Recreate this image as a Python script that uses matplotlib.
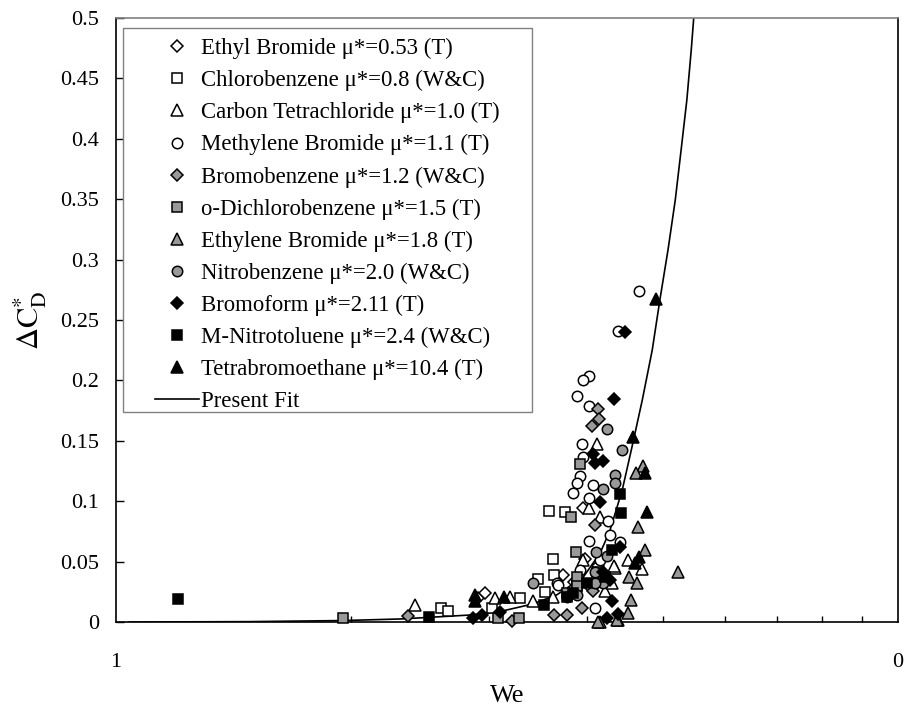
import matplotlib
matplotlib.use('Agg')
import matplotlib.pyplot as plt
from matplotlib.patches import Rectangle

plt.rcParams['font.family'] = 'Liberation Serif'
plt.rcParams['mathtext.fontset'] = 'stix'

# Weber number / drag coefficient increment for each liquid
ethyl_we = [2.90, 2.96, 3.73, 3.98, 3.96, 4.14, 4.05, 3.85]
ethyl_cd = [0.020, 0.024, 0.039, 0.052, 0.094, 0.046, 0.028, 0.033]

chloro_we = [2.60, 2.66, 3.03, 3.29, 3.46, 3.54, 3.58, 3.62, 3.63, 3.75, 3.89]
chloro_cd = [0.012, 0.009, 0.012, 0.020, 0.036, 0.025, 0.092, 0.052, 0.039, 0.091, 0.030]

ccl4_we = [2.41, 3.05, 3.19, 3.41, 3.62, 3.96, 4.03, 4.16, 4.12, 4.22, 4.31, 4.35, 4.52, 4.71, 4.33]
ccl4_cd = [0.014, 0.020, 0.021, 0.017, 0.021, 0.051, 0.094, 0.087, 0.147, 0.026, 0.032, 0.045, 0.051, 0.044, 0.046]

methylene_we = [4.67, 4.39, 4.02, 3.96, 3.89, 4.02, 3.94, 3.96, 3.92, 3.89, 4.07, 3.84,
                4.02, 4.26, 4.02, 4.28, 4.41, 4.10, 3.66, 4.16, 3.92, 3.67]
methylene_cd = [0.274, 0.241, 0.204, 0.200, 0.187, 0.179, 0.147, 0.137, 0.121, 0.115, 0.113, 0.107,
                0.103, 0.084, 0.067, 0.072, 0.066, 0.012, 0.032, 0.051, 0.043, 0.031]

bromobenz_we = [2.36, 3.21, 3.63, 3.77, 3.94, 4.14, 4.15, 4.06, 4.10, 4.07, 4.12]
bromobenz_cd = [0.005, 0.001, 0.006, 0.006, 0.012, 0.176, 0.168, 0.162, 0.080, 0.026, 0.032]

dichloro_we = [1.95, 3.08, 3.28, 3.92, 3.82, 3.88, 3.89, 3.77, 3.89, 4.12]
dichloro_cd = [0.003, 0.003, 0.003, 0.131, 0.087, 0.058, 0.037, 0.024, 0.030, 0.041]

ethylene_we = [4.72, 4.62, 4.65, 4.75, 4.53, 4.64, 5.23, 4.56, 4.52, 4.39, 4.16, 4.37, 4.14]
ethylene_cd = [0.129, 0.123, 0.079, 0.060, 0.037, 0.032, 0.041, 0.018, 0.0075, 0.002, 0.0, 0.002, 0.0]

nitrobenz_we = [4.44, 4.25, 4.35, 4.35, 4.20, 4.11, 4.25, 4.10, 4.20, 3.89, 3.77, 3.41, 4.10]
nitrobenz_cd = [0.142, 0.160, 0.122, 0.115, 0.110, 0.058, 0.055, 0.041, 0.032, 0.022, 0.021, 0.032, 0.032]

bromoform_we = [4.48, 4.33, 4.07, 4.10, 4.20, 4.16, 4.31, 4.39, 4.25, 2.86, 2.94, 3.10, 4.20, 4.28, 4.41]
bromoform_cd = [0.240, 0.185, 0.139, 0.132, 0.133, 0.099, 0.017, 0.007, 0.003, 0.003, 0.006, 0.008, 0.041, 0.035, 0.062]

nitrotol_we = [1.20, 2.51, 3.53, 4.41, 4.42, 4.31, 4.00, 3.77, 4.22, 3.84]
nitrotol_cd = [0.019, 0.004, 0.014, 0.106, 0.090, 0.060, 0.032, 0.021, 0.037, 0.024]

tetrabromo_we = [4.90, 4.58, 4.75, 4.78, 4.67, 4.61, 2.88, 2.88, 3.13]
tetrabromo_cd = [0.267, 0.153, 0.123, 0.091, 0.054, 0.049, 0.022, 0.017, 0.021]

# correlation curve
fit_we = [1.04, 1.48, 1.95, 2.31, 2.84, 3.10, 3.41, 3.66, 3.96, 4.16, 4.28, 4.44,
          4.56, 4.71, 4.85, 4.96, 5.08, 5.19, 5.28, 5.37, 5.44, 5.48]
fit_cd = [0.0, 0.0003, 0.0012, 0.0025, 0.0058, 0.0087, 0.0149, 0.0224, 0.0373, 0.0571, 0.0753, 0.1093,
          0.1424, 0.1838, 0.2252, 0.2666, 0.3079, 0.3493, 0.3907, 0.4321, 0.4735, 0.5]

grey = '#999999'
series = [
    ('Ethyl Bromide μ*=0.53 (T)', ethyl_we, ethyl_cd, 'D', 'white', 6.0),
    ('Chlorobenzene μ*=0.8 (W&C)', chloro_we, chloro_cd, 's', 'white', 7.0),
    ('Carbon Tetrachloride μ*=1.0 (T)', ccl4_we, ccl4_cd, '^', 'white', 8.0),
    ('Methylene Bromide μ*=1.1 (T)', methylene_we, methylene_cd, 'o', 'white', 7.5),
    ('Bromobenzene μ*=1.2 (W&C)', bromobenz_we, bromobenz_cd, 'D', grey, 6.0),
    ('o-Dichlorobenzene μ*=1.5 (T)', dichloro_we, dichloro_cd, 's', grey, 7.0),
    ('Ethylene Bromide μ*=1.8 (T)', ethylene_we, ethylene_cd, '^', grey, 8.0),
    ('Nitrobenzene μ*=2.0 (W&C)', nitrobenz_we, nitrobenz_cd, 'o', grey, 7.5),
    ('Bromoform μ*=2.11 (T)', bromoform_we, bromoform_cd, 'D', 'black', 6.0),
    ('M-Nitrotoluene μ*=2.4 (W&C)', nitrotol_we, nitrotol_cd, 's', 'black', 7.0),
    ('Tetrabromoethane μ*=10.4 (T)', tetrabromo_we, tetrabromo_cd, '^', 'black', 8.0),
]

fig = plt.figure(figsize=(9.08, 7.08), dpi=100)
ax = fig.add_axes([116 / 908, 86 / 708, 782 / 908, 604 / 708])

handles = []
for name, xs, ys, m, fc, ms in series:
    h, = ax.plot(xs, ys, linestyle='none', marker=m, ms=ms, mfc=fc, mec='black',
                 mew=1.1, label=name, clip_on=False, zorder=3)
    handles.append(h)

fit_line, = ax.plot(fit_we, fit_cd, color='black', lw=1.2, label='Present Fit', zorder=2)
handles.append(fit_line)

ax.set_xscale('log')
ax.set_xlim(1, 10)
ax.set_ylim(0, 0.5)

ax.set_xticks([1, 10])
ax.set_xticklabels(['1', '0'])
ax.set_xticks([2, 3, 4, 5, 6, 7, 8, 9], minor=True)
ax.xaxis.set_minor_formatter(plt.NullFormatter())
ax.set_yticks([0, 0.05, 0.1, 0.15, 0.2, 0.25, 0.3, 0.35, 0.4, 0.45, 0.5])
ax.set_yticklabels(['0', '0.05', '0.1', '0.15', '0.2', '0.25', '0.3', '0.35', '0.4', '0.45', '0.5'])

ax.tick_params(axis='y', direction='in', length=6, width=1, labelsize=16, pad=12)
ax.tick_params(axis='x', which='major', length=0, labelsize=16, pad=22)
ax.tick_params(axis='x', which='minor', direction='in', length=4, width=1)

for side in ['left', 'bottom', 'right']:
    ax.spines[side].set_linewidth(1.2)
    ax.spines[side].set_color('black')
ax.spines['top'].set_color('#808080')
ax.spines['top'].set_linewidth(1.2)

ax.set_xlabel('We', fontsize=19, labelpad=10)
ax.set_ylabel(r'$\Delta\mathrm{C}_\mathrm{D}^{*}$', fontsize=22, labelpad=8)

# legend frame drawn separately so the padding can be set freely
ax.add_patch(Rectangle((0.009, 0.3477), 0.523, 0.636, transform=ax.transAxes,
                       facecolor='white', edgecolor='#808080', lw=1.0, zorder=4))
leg = ax.legend(handles=handles, loc='upper left', bbox_to_anchor=(0.0499, 0.967),
                frameon=False, fontsize=16.4, handlelength=1.93, handletextpad=0.1,
                labelspacing=0.48, borderpad=0, borderaxespad=0, numpoints=1)
leg.set_zorder(5)

fig.savefig('out.png', dpi=100)
